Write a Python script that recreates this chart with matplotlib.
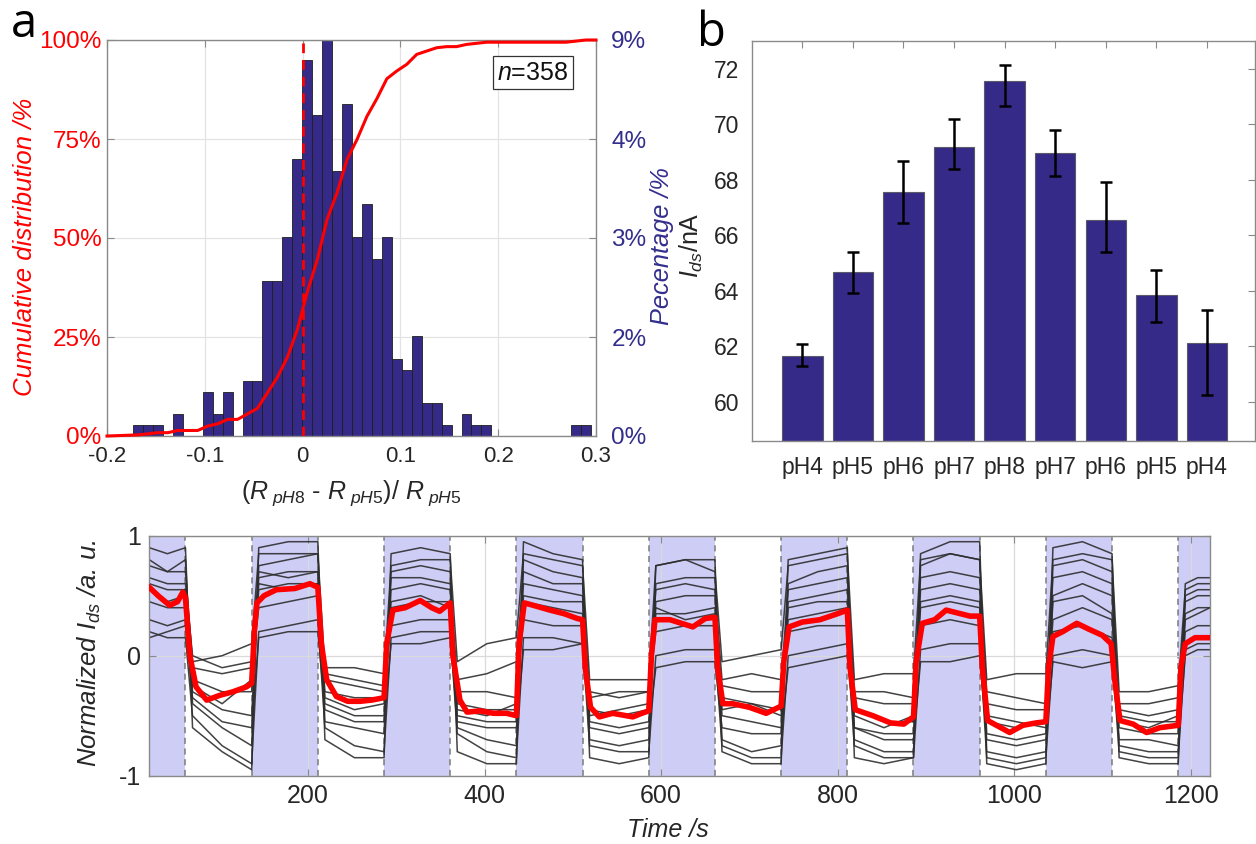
import numpy as np
import matplotlib
matplotlib.use("Agg")
import matplotlib.pyplot as plt

plt.rcParams['font.family'] = ['Liberation Sans', 'DejaVu Sans']
plt.rcParams['mathtext.fontset'] = 'custom'
plt.rcParams['mathtext.rm'] = 'Liberation Sans'
plt.rcParams['mathtext.it'] = 'Liberation Sans:italic'
plt.rcParams['mathtext.bf'] = 'Liberation Sans:bold'
plt.rcParams['axes.unicode_minus'] = False

# ---------------- data: panel a (histogram of relative change) ----------------
hist_min = -0.1734
hist_max = 0.2948
hist_counts = [1, 1, 1, 0, 2, 0, 0, 4, 2, 4, 0, 5, 5, 14, 14, 18, 25,
               34, 29, 37, 24, 30, 18, 21, 16, 18, 7, 6, 9, 3, 3, 1, 0,
               2, 1, 1, 0, 0, 0, 0, 0, 0, 0, 0, 1, 1]
n_total = 358
a_xticks = [-0.2, -0.1, 0, 0.1, 0.2, 0.3]
a_xticklabels = ['-0.2', '-0.1', '0', '0.1', '0.2', '0.3']
a_left_ticks = [0, 25, 50, 75, 100]
a_left_labels = ['0%', '25%', '50%', '75%', '100%']
a_right_ticks = [0, 2.5, 5, 7.5, 10]
a_right_labels = ['0%', '2%', '3%', '4%', '9%']

# ---------------- data: panel b (Ids vs pH) ----------------
ph_labels = ['pH4', 'pH5', 'pH6', 'pH7', 'pH8', 'pH7', 'pH6', 'pH5', 'pH4']
ids_mean = [61.66, 64.66, 67.55, 69.18, 71.57, 68.98, 66.56, 63.86, 62.10]
ids_err_low = [0.37, 0.75, 1.10, 0.78, 0.91, 0.83, 1.15, 0.98, 1.85]
ids_err_high = [0.41, 0.75, 1.13, 1.01, 0.57, 0.82, 1.37, 0.88, 1.21]
b_yticks = [60, 62, 64, 66, 68, 70, 72]

# ---------------- data: panel c (normalized time traces) ----------------
seg_bounds = [20, 61, 136, 211, 286, 361, 436, 511, 586, 661, 736, 811,
              886, 961, 1036, 1111, 1186, 1222]
rise_s = 8
c_xticks = [200, 400, 600, 800, 1000, 1200]
c_yticks = [-1, 0, 1]

red_t = [20, 30, 43, 52, 58, 61,
         66, 73, 85, 100, 115, 130, 136,
         139, 142, 150, 164, 185, 202, 211,
         215, 221, 232, 245, 259, 272, 286,
         289, 296, 310, 327, 340, 349, 361,
         364, 372, 380, 395, 410, 425, 436,
         439, 445, 455, 474, 490, 505, 511,
         514, 520, 530, 545, 568, 578, 586,
         589, 593, 610, 636, 650, 661,
         664, 670, 681, 700, 719, 736,
         739, 745, 760, 780, 800, 811,
         814, 820, 840, 860, 875, 886,
         889, 896, 910, 923, 950, 961,
         964, 970, 985, 995, 1010, 1025, 1036,
         1039, 1044, 1055, 1071, 1085, 1100, 1110,
         1114, 1120, 1135, 1150, 1165, 1186,
         1189, 1194, 1205, 1222]
red_v = [0.57, 0.50, 0.42, 0.45, 0.53, 0.48,
         0.00, -0.26, -0.37, -0.33, -0.30, -0.26, -0.23,
         0.20, 0.44, 0.50, 0.55, 0.56, 0.60, 0.57,
         0.10, -0.20, -0.34, -0.38, -0.38, -0.37, -0.35,
         0.10, 0.38, 0.40, 0.46, 0.40, 0.37, 0.44,
         0.00, -0.37, -0.47, -0.46, -0.48, -0.48, -0.50,
         0.10, 0.44, 0.42, 0.38, 0.35, 0.31, 0.30,
         -0.10, -0.43, -0.51, -0.48, -0.51, -0.48, -0.46,
         0.00, 0.30, 0.30, 0.24, 0.31, 0.32,
         -0.10, -0.40, -0.40, -0.43, -0.48, -0.42,
         -0.05, 0.24, 0.28, 0.30, 0.35, 0.38,
         -0.10, -0.45, -0.50, -0.56, -0.57, -0.51,
         -0.05, 0.27, 0.30, 0.38, 0.33, 0.33,
         -0.10, -0.54, -0.60, -0.64, -0.58, -0.56, -0.55,
         -0.10, 0.16, 0.20, 0.27, 0.22, 0.17, 0.10,
         -0.20, -0.54, -0.57, -0.64, -0.60, -0.58,
         -0.10, 0.10, 0.15, 0.15]

# individual traces: (start, middle, end) level in each of the 17 segments
trace_1 = [[0.90, 0.85, 0.90], [-0.60, -0.80, -0.95], [0.90, 0.95, 0.95], [-0.70, -0.85, -0.85],
           [0.85, 0.90, 0.85], [-0.80, -0.90, -0.90], [0.95, 0.85, 0.80], [-0.85, -0.90, -0.85],
           [0.75, 0.80, 0.80], [-0.80, -0.90, -0.90], [0.80, 0.85, 0.90], [-0.85, -0.90, -0.85],
           [0.85, 0.95, 0.95], [-0.90, -0.95, -0.90], [0.90, 0.95, 0.85], [-0.85, -0.90, -0.90],
           [0.60, 0.65, 0.65]]
trace_2 = [[0.75, 0.70, 0.80], [-0.40, -0.60, -0.75], [0.75, 0.80, 0.85], [-0.55, -0.60, -0.65],
           [0.70, 0.75, 0.70], [-0.60, -0.70, -0.75], [0.80, 0.70, 0.65], [-0.70, -0.75, -0.70],
           [0.60, 0.65, 0.65], [-0.70, -0.80, -0.75], [0.60, 0.70, 0.75], [-0.70, -0.80, -0.80],
           [0.75, 0.85, 0.80], [-0.80, -0.85, -0.80], [0.75, 0.80, 0.70], [-0.75, -0.80, -0.80],
           [0.50, 0.55, 0.55]]
trace_3 = [[0.60, 0.55, 0.55], [-0.30, -0.45, -0.50], [0.65, 0.70, 0.70], [-0.40, -0.50, -0.50],
           [0.55, 0.60, 0.55], [-0.50, -0.55, -0.55], [0.60, 0.55, 0.50], [-0.55, -0.60, -0.55],
           [0.45, 0.50, 0.50], [-0.50, -0.55, -0.60], [0.45, 0.50, 0.55], [-0.60, -0.65, -0.65],
           [0.55, 0.60, 0.55], [-0.65, -0.70, -0.65], [0.50, 0.60, 0.50], [-0.60, -0.65, -0.65],
           [0.35, 0.40, 0.40]]
trace_4 = [[0.45, 0.40, 0.40], [-0.20, -0.30, -0.30], [0.55, 0.60, 0.60], [-0.30, -0.35, -0.35],
           [0.40, 0.45, 0.45], [-0.40, -0.45, -0.45], [0.45, 0.40, 0.35], [-0.45, -0.50, -0.45],
           [0.35, 0.35, 0.40], [-0.35, -0.40, -0.45], [0.30, 0.35, 0.40], [-0.45, -0.55, -0.55],
           [0.40, 0.45, 0.40], [-0.55, -0.60, -0.55], [0.30, 0.40, 0.30], [-0.50, -0.55, -0.55],
           [0.20, 0.25, 0.25]]
trace_5 = [[0.30, 0.25, 0.30], [-0.10, -0.15, -0.10], [0.40, 0.45, 0.50], [-0.15, -0.20, -0.25],
           [0.25, 0.30, 0.30], [-0.30, -0.30, -0.35], [0.30, 0.25, 0.25], [-0.30, -0.35, -0.30],
           [0.20, 0.25, 0.25], [-0.25, -0.30, -0.30], [0.20, 0.25, 0.25], [-0.35, -0.40, -0.40],
           [0.25, 0.30, 0.25], [-0.40, -0.45, -0.45], [0.20, 0.25, 0.15], [-0.45, -0.50, -0.45],
           [0.10, 0.15, 0.15]]
trace_6 = [[0.20, 0.15, 0.15], [-0.50, -0.75, -0.90], [0.20, 0.25, 0.30], [-0.60, -0.75, -0.80],
           [0.15, 0.20, 0.20], [-0.65, -0.80, -0.85], [0.15, 0.15, 0.10], [-0.75, -0.80, -0.80],
           [0.00, 0.05, 0.05], [-0.75, -0.85, -0.85], [0.00, 0.05, 0.10], [-0.75, -0.85, -0.85],
           [0.05, 0.10, 0.10], [-0.85, -0.90, -0.85], [0.00, 0.05, 0.00], [-0.80, -0.85, -0.85],
           [0.05, 0.10, 0.10]]
trace_7 = [[0.80, 0.70, 0.70], [-0.05, 0.00, 0.10], [0.85, 0.85, 0.85], [-0.10, -0.10, -0.15],
           [0.75, 0.80, 0.80], [-0.05, 0.10, 0.15], [0.85, 0.80, 0.75], [-0.20, -0.20, -0.20],
           [0.75, 0.80, 0.70], [-0.05, 0.00, 0.05], [0.75, 0.80, 0.85], [-0.20, -0.15, -0.15],
           [0.80, 0.85, 0.80], [-0.20, -0.15, -0.15], [0.80, 0.85, 0.80], [-0.30, -0.30, -0.25],
           [0.55, 0.60, 0.60]]
trace_8 = [[0.15, 0.20, 0.25], [-0.35, -0.55, -0.60], [0.15, 0.20, 0.20], [-0.45, -0.55, -0.55],
           [0.10, 0.10, 0.15], [-0.55, -0.60, -0.60], [0.05, 0.05, 0.10], [-0.60, -0.65, -0.60],
           [-0.10, -0.05, -0.05], [-0.60, -0.65, -0.65], [-0.10, -0.05, 0.00], [-0.60, -0.70, -0.70],
           [-0.05, -0.05, 0.00], [-0.70, -0.75, -0.70], [-0.05, -0.10, -0.05], [-0.70, -0.70, -0.75],
           [0.00, 0.05, 0.05]]
trace_9 = [[0.55, 0.45, 0.50], [-0.25, -0.40, -0.20], [0.60, 0.55, 0.60], [-0.35, -0.45, -0.40],
           [0.45, 0.50, 0.40], [-0.45, -0.50, -0.40], [0.50, 0.45, 0.45], [-0.50, -0.45, -0.40],
           [0.40, 0.30, 0.35], [-0.45, -0.40, -0.50], [0.40, 0.45, 0.45], [-0.50, -0.60, -0.50],
           [0.45, 0.50, 0.45], [-0.50, -0.55, -0.60], [0.45, 0.50, 0.35], [-0.55, -0.60, -0.50],
           [0.30, 0.35, 0.40]]
trace_10 = [[0.65, 0.60, 0.60], [0.00, -0.10, -0.05], [0.70, 0.65, 0.70], [-0.20, -0.25, -0.30],
            [0.65, 0.65, 0.60], [-0.20, -0.15, -0.05], [0.70, 0.60, 0.60], [-0.35, -0.30, -0.30],
            [0.55, 0.60, 0.55], [-0.20, -0.15, -0.20], [0.55, 0.60, 0.65], [-0.30, -0.30, -0.35],
            [0.65, 0.70, 0.65], [-0.30, -0.35, -0.40], [0.65, 0.70, 0.60], [-0.40, -0.40, -0.35],
            [0.45, 0.50, 0.50]]
traces = [trace_1, trace_2, trace_3, trace_4, trace_5, trace_6, trace_7, trace_8, trace_9, trace_10]

# ---------------- style ----------------
W, H = 1256, 844
GRID = '#E3E3E3'
SPINE = '#8A8A8A'
TXT = '#262626'
BAR = '#352A87'
RBLUE = '#332E8C'
SHADE = '#CDCDF6'
FS = 17.5


def rect(l, t, r, b):
    return [l / W, 1 - b / H, (r - l) / W, (b - t) / H]


def style_spines(ax):
    for s in ax.spines.values():
        s.set_color(SPINE)
        s.set_linewidth(1.0)


fig = plt.figure(figsize=(W / 100, H / 100), dpi=100)

# ================= panel a =================
ax_h = fig.add_axes(rect(107, 40, 596, 436))
edges = np.linspace(hist_min, hist_max, len(hist_counts) + 1)
pct = np.array(hist_counts) / n_total * 100
ax_h.bar(edges[:-1], pct, width=np.diff(edges), align='edge', color=BAR,
         edgecolor='#1E1E1E', linewidth=0.6, zorder=2)
ax_h.set_xlim(a_xticks[0], a_xticks[-1])
ax_h.set_ylim(a_right_ticks[0], a_right_ticks[-1])
ax_h.yaxis.tick_right()
ax_h.yaxis.set_label_position('right')
ax_h.set_yticks(a_right_ticks)
ax_h.set_yticklabels(a_right_labels, color=RBLUE, fontsize=FS)
ax_h.set_xticks(a_xticks)
ax_h.set_xticklabels(a_xticklabels, color=TXT, fontsize=16)
ax_h.grid(True, color=GRID, linewidth=0.9)
ax_h.set_axisbelow(True)
ax_h.tick_params(axis='x', direction='in', length=5, color=SPINE, top=True, pad=7)
ax_h.tick_params(axis='y', direction='in', length=5, color=SPINE, pad=11)
style_spines(ax_h)
ax_h.set_ylabel('Pecentage /%', style='italic', color=RBLUE, fontsize=18.3)
ax_h.yaxis.set_label_coords(1.110, 0.48)
ax_h.set_xlabel(r'$\mathit{(R_{\ pH8}\ \text{-}\ R_{\ pH5})/\ R_{\ pH5}}$', fontsize=18, color=TXT)
ax_h.xaxis.set_label_coords(0.5, -0.106)

ax_c = fig.add_axes(rect(107, 40, 596, 436), sharex=ax_h)
ax_c.patch.set_visible(False)
for s in ax_c.spines.values():
    s.set_visible(False)
ax_c.set_ylim(a_left_ticks[0], a_left_ticks[-1])
ax_c.yaxis.tick_left()
ax_c.set_yticks(a_left_ticks)
ax_c.set_yticklabels(a_left_labels, color='#FF0000', fontsize=FS)
ax_c.tick_params(axis='y', direction='in', length=5, color=SPINE, pad=4)
ax_c.tick_params(axis='x', bottom=False, top=False, labelbottom=False)
centers = (edges[:-1] + edges[1:]) / 2
cum = np.cumsum(hist_counts) / n_total * 100
cx = np.concatenate([[a_xticks[0]], centers, [a_xticks[-1]]])
cy = np.concatenate([[0], cum, [cum[-1]]])
ax_c.plot(cx, cy, color='#FF0000', linewidth=2.2, zorder=4, clip_on=False)
ax_c.axvline(0, color='#FF0000', linewidth=2.0, linestyle=(0, (3.5, 2.5)), zorder=3)
ax_c.set_ylabel('Cumulative distribution /%', style='italic', color='#FF0000', fontsize=18.5)
ax_c.yaxis.set_label_coords(-0.143, 0.477)
ax_c.text(0.871, 0.917, r'$\mathit{n}$=358', transform=ax_c.transAxes, ha='center', va='center',
          fontsize=18, color='#111111',
          bbox=dict(boxstyle='square,pad=0.18', facecolor='white', edgecolor='#333333', linewidth=0.9))

fig.text(24 / W, 1 - 24 / H, 'a', fontsize=34, family=['Open Sans', 'DejaVu Sans'],
         ha='center', va='center', color='black')

# ================= panel b =================
ax_b = fig.add_axes(rect(751.7, 40.7, 1255, 441))
xpos = np.arange(1, len(ids_mean) + 1)
base = 58.58
ax_b.bar(xpos, np.array(ids_mean) - base, bottom=base, width=0.8, color=BAR,
         edgecolor='#5A5A6A', linewidth=0.8, zorder=2)
ax_b.errorbar(xpos, ids_mean, yerr=[ids_err_low, ids_err_high], fmt='none', ecolor='black',
              elinewidth=1.8, capsize=4, capthick=1.8, zorder=3)
ax_b.set_xlim(0, 9.95)
ax_b.set_ylim(base, 73.02)
ax_b.set_yticks(b_yticks)
ax_b.set_yticklabels([str(v) for v in b_yticks], fontsize=16.5, color=TXT)
ax_b.set_xticks(xpos)
ax_b.set_xticklabels(ph_labels, fontsize=16.5, color=TXT)
ax_b.tick_params(axis='x', direction='in', length=5, color=SPINE, bottom=False, top=True, pad=11)
ax_b.tick_params(axis='y', direction='in', length=5, color=SPINE, left=False, right=True, pad=9)
style_spines(ax_b)
ax_b.set_ylabel(r'$I_{ds}$/nA', fontsize=18, color=TXT)
ax_b.yaxis.set_label_coords(-0.092, 0.49)
fig.text(711 / W, 1 - 33 / H, 'b', fontsize=34, family=['Open Sans', 'DejaVu Sans'],
         ha='center', va='center', color='black')

# ================= panel c =================
ax_t = fig.add_axes(rect(149.3, 535.7, 1210, 775.7))
ax_t.set_xlim(seg_bounds[0], seg_bounds[-1])
ax_t.set_ylim(c_yticks[0], c_yticks[-1])
for i in range(0, len(seg_bounds) - 1, 2):
    ax_t.axvspan(seg_bounds[i], seg_bounds[i + 1], color=SHADE, linewidth=0, zorder=0)
for b in seg_bounds[1:-1]:
    ax_t.axvline(b, color='#7A7A7A', linewidth=1.1, linestyle=(0, (4, 3)), zorder=1.5)
ax_t.set_xticks(c_xticks)
ax_t.set_xticklabels([str(v) for v in c_xticks], fontsize=18, color=TXT)
ax_t.set_yticks(c_yticks)
ax_t.set_yticklabels([str(v) for v in c_yticks], fontsize=18, color=TXT)
ax_t.grid(True, color='#DADADA', linewidth=0.9, zorder=1)
ax_t.tick_params(direction='in', length=5, color=SPINE, top=True, right=True, pad=6)
style_spines(ax_t)

for tr in traces:
    tt, vv = [], []
    for i, (s, m, e) in enumerate(tr):
        t0, t1 = seg_bounds[i], seg_bounds[i + 1]
        ts = t0 if i == 0 else t0 + rise_s
        tt += [ts, (ts + t1) / 2, t1]
        vv += [s, m, e]
    ax_t.plot(tt, vv, color='#2E2E2E', linewidth=1.1, alpha=0.9, zorder=2)
ax_t.plot(red_t, red_v, color='#FF0000', linewidth=4.0, zorder=3, solid_joinstyle='round')

ax_t.set_ylabel(r'Normalized $I_{ds}$ /a. u.', style='italic', fontsize=18.5, color=TXT)
ax_t.yaxis.set_label_coords(-0.0437, 0.51)
ax_t.set_xlabel('Time /s', style='italic', fontsize=18, color=TXT)
ax_t.xaxis.set_label_coords(0.489, -0.176)

fig.savefig('out.png', dpi=100)
